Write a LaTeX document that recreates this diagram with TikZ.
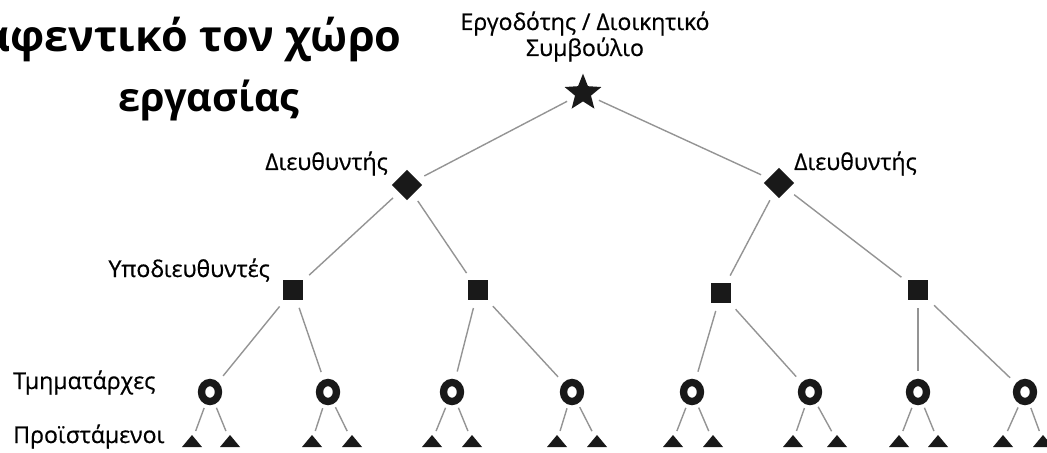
\documentclass[tikz,border=0pt]{standalone}
\usepackage{fontspec}
\setmainfont{Open Sans}
\newfontfamily\lblfont{Open Sans}[FakeBold=0.7]
\usetikzlibrary{shapes.geometric}
\begin{document}
\begin{tikzpicture}[x=0.75pt,y=-0.75pt,
 lbl/.style={font=\lblfont\fontsize{17.3}{19}\selectfont, inner sep=0},
 ttl/.style={font=\bfseries, inner sep=0},
 conn/.style={draw=black!42, line width=1.05pt, shorten <=6pt, shorten >=6pt},
 sconn/.style={draw=black!42, line width=1.05pt, shorten <=3pt, shorten >=3pt},
 boss/.style={star, star points=5, star point ratio=2.3, fill=black!90, minimum size=29pt, inner sep=0},
 dir/.style={diamond, fill=black!90, minimum size=23pt, inner sep=0},
 sub/.style={rectangle, fill=black!90, minimum size=15pt, inner sep=0},
 head/.style={ellipse, draw=black!90, line width=5.5pt, fill=white, minimum width=12.75pt, minimum height=14.25pt, inner sep=0},
 tri/.style={rectangle, minimum width=15pt, minimum height=9pt, inner sep=0,
   path picture={\fill[black!90] (path picture bounding box.south west) -- (path picture bounding box.south east) -- (path picture bounding box.north) -- cycle;}},
]
\useasboundingbox (0,0) rectangle (1047,453);

% title
\node[ttl, anchor=base east, font=\bfseries\fontsize{32.4}{34}\selectfont] (T2) at (402,52) {αφεντικό τον χώρο};
\node[ttl, anchor=base, font=\bfseries\fontsize{29.7}{32}\selectfont] (T3) at (209,112) {εργασίας};

% labels
\node[lbl, align=center, anchor=base] (LE) at (585,56) {Εργοδότης / Διοικητικό\\[0.5pt]Συμβούλιο};
\node[lbl, anchor=base east] (LD1) at (388,170) {Διευθυντής};
\node[lbl, anchor=base west] (LD2) at (794,170) {Διευθυντής};
\node[lbl, anchor=base east] (LS) at (270,277) {Υποδιευθυντές};
\node[lbl, anchor=base west] (LC) at (13,389) {Τμηματάρχες};
\node[lbl, anchor=base west] (LT) at (13,443) {Προϊστάμενοι};

% shapes
\node[boss] (E) at (583,93) {};
\node[dir] (D1) at (407,185) {};
\node[dir] (D2) at (779,183) {};
\node[sub] (S1) at (293,290) {};
\node[sub] (S2) at (478,290) {};
\node[sub] (S3) at (721,293) {};
\node[sub] (S4) at (918,290) {};

\foreach \i/\x in {1/210,2/328,3/452,4/572,5/692,6/810,7/918,8/1025}
  \node[head] (C\i) at (\x,392) {};

\foreach \i/\a/\b in {1/192/230,2/312/352,3/432/472,4/557/597,5/673/713,6/793/837,7/899/938,8/1003/1043}{
  \node[tri] (P\i a) at (\a,441) {};
  \node[tri] (P\i b) at (\b,441) {};
}

% connectors
\draw[conn] (E) -- (D1);
\draw[conn] (E) -- (D2);
\draw[conn] (D1) -- (S1);
\draw[conn] (D1) -- (S2);
\draw[conn] (D2) -- (S3);
\draw[conn] (D2) -- (S4);
\draw[conn] (S1) -- (C1);
\draw[conn] (S1) -- (C2);
\draw[conn] (S2) -- (C3);
\draw[conn] (S2) -- (C4);
\draw[conn] (S3) -- (C5);
\draw[conn] (S3) -- (C6);
\draw[conn] (S4) -- (C7);
\draw[conn] (S4) -- (C8);
\foreach \i in {1,...,8}{
  \draw[sconn] (C\i) -- (P\i a);
  \draw[sconn] (C\i) -- (P\i b);
}
\end{tikzpicture}
\end{document}
